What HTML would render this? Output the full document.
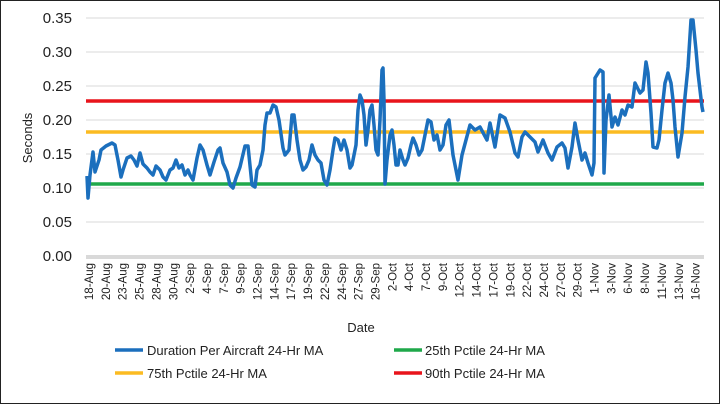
<!DOCTYPE html>
<html><head><meta charset="utf-8"><style>
html,body{margin:0;padding:0;background:#fff;}
svg{display:block;font-family:"Liberation Sans",sans-serif;}
</style></head><body>
<svg width="720" height="404" viewBox="0 0 720 404" xmlns="http://www.w3.org/2000/svg">
<rect x="0.5" y="0.5" width="719" height="403" fill="#fff" stroke="#222" stroke-width="1"/>
<g stroke="#d9d9d9" stroke-width="1">
<line x1="86" x2="704" y1="18" y2="18"/><line x1="86" x2="704" y1="52" y2="52"/>
<line x1="86" x2="704" y1="86" y2="86"/><line x1="86" x2="704" y1="120" y2="120"/>
<line x1="86" x2="704" y1="154" y2="154"/><line x1="86" x2="704" y1="188" y2="188"/>
<line x1="86" x2="704" y1="222" y2="222"/>
</g>
<line x1="86" x2="704" y1="257" y2="257" stroke="#d9d9d9" stroke-width="4"/>
<g font-size="15" fill="#222" text-anchor="end">
<text x="72" y="23">0.35</text><text x="72" y="57">0.30</text><text x="72" y="91">0.25</text>
<text x="72" y="125">0.20</text><text x="72" y="159">0.15</text><text x="72" y="193">0.10</text>
<text x="72" y="227">0.05</text><text x="72" y="261">0.00</text>
</g>
<text transform="translate(32,138) rotate(-90)" font-size="13" text-anchor="middle" fill="#222">Seconds</text>
<g id="xl" font-size="11.5" fill="#222" text-anchor="end"></g>
<text x="361" y="332" font-size="13" text-anchor="middle" fill="#222">Date</text>
<line x1="86" x2="704" y1="101" y2="101" stroke="#e8141b" stroke-width="3.5"/>
<line x1="86" x2="704" y1="132" y2="132" stroke="#fbbb22" stroke-width="3.5"/>
<line x1="86" x2="704" y1="184" y2="184" stroke="#1fa84a" stroke-width="3.5"/>
<polyline fill="none" stroke="#1b6fbd" stroke-width="3.5" stroke-linejoin="round" points="87,176 88,198 90,175 93,152 95,172 99,160 101,150 106,146 112,143 115,145 118,160 121,177 123,170 127,158 131,156 134,160 137,166 140,153 143,164 147,168 150,172 153,175 156,166 160,170 163,177 166,180 170,170 173,168 176,160 179,168 182,165 185,175 188,170 190,175 193,180 197,158 200,145 203,150 207,165 210,175 214,162 218,150 220,148 223,163 227,172 230,185 233,188 236,178 240,167 245,146 248,146 252,185 255,187 257,170 260,165 263,150 265,125 267,113 270,113 273,105 276,107 279,120 283,148 285,155 289,150 292,115 294,115 297,140 300,160 303,170 306,167 309,160 312,145 315,155 318,160 321,163 324,180 327,185 330,170 333,150 335,138 338,140 341,150 344,140 347,150 350,168 352,165 356,145 358,110 360,95 362,100 364,115 366,145 368,130 370,110 372,105 374,125 376,150 378,155 380,120 382,70 383,68 384,100 385,184 387,160 390,135 392,130 394,145 396,165 398,165 400,150 403,160 405,165 408,158 411,145 413,138 416,145 419,155 422,150 425,135 428,120 431,122 434,140 437,135 440,150 443,145 446,125 449,120 453,155 456,170 458,180 462,155 466,140 470,125 475,130 480,127 487,140 490,123 495,147 500,115 505,118 510,132 515,153 518,157 522,137 525,132 530,137 535,142 538,152 543,140 548,153 552,160 557,147 562,143 565,148 568,168 572,147 575,123 578,140 582,160 585,153 588,163 592,175 594,163 595,78 600,70 603,72 604,173 606,120 609,95 612,127 615,117 618,125 622,110 625,115 628,105 632,107 635,83 640,93 643,90 646,62 648,73 651,113 653,147 657,148 659,140 662,110 665,83 668,73 671,83 673,100 675,127 678,157 682,133 685,97 688,67 691,20 693,20 696,50 698,73 702,107 703,112"/>
<g font-size="13" fill="#222">
<line x1="115" x2="143" y1="350" y2="350" stroke="#1b6fbd" stroke-width="3.5"/>
<text x="147" y="355">Duration Per Aircraft 24-Hr MA</text>
<line x1="394" x2="422" y1="350" y2="350" stroke="#1fa84a" stroke-width="3.5"/>
<text x="425" y="355">25th Pctile 24-Hr MA</text>
<line x1="115" x2="143" y1="373" y2="373" stroke="#fbbb22" stroke-width="3.5"/>
<text x="147" y="378">75th Pctile 24-Hr MA</text>
<line x1="394" x2="422" y1="373" y2="373" stroke="#e8141b" stroke-width="3.5"/>
<text x="425" y="378">90th Pctile 24-Hr MA</text>
</g>
</svg>
<script>
var L=["18-Aug","20-Aug","23-Aug","25-Aug","28-Aug","30-Aug","2-Sep","4-Sep","7-Sep","9-Sep","12-Sep","14-Sep","17-Sep","19-Sep","22-Sep","24-Sep","27-Sep","29-Sep","2-Oct","4-Oct","7-Oct","9-Oct","12-Oct","14-Oct","17-Oct","19-Oct","22-Oct","24-Oct","27-Oct","29-Oct","1-Nov","3-Nov","6-Nov","8-Nov","11-Nov","13-Nov","16-Nov"];
var g=document.getElementById("xl"),s="";
for(var i=0;i<L.length;i++){var x=89+i*16.85+4;s+='<text transform="translate('+x.toFixed(1)+',263) rotate(-90)">'+L[i]+'</text>';}
g.innerHTML=s;
</script>
</body></html>
